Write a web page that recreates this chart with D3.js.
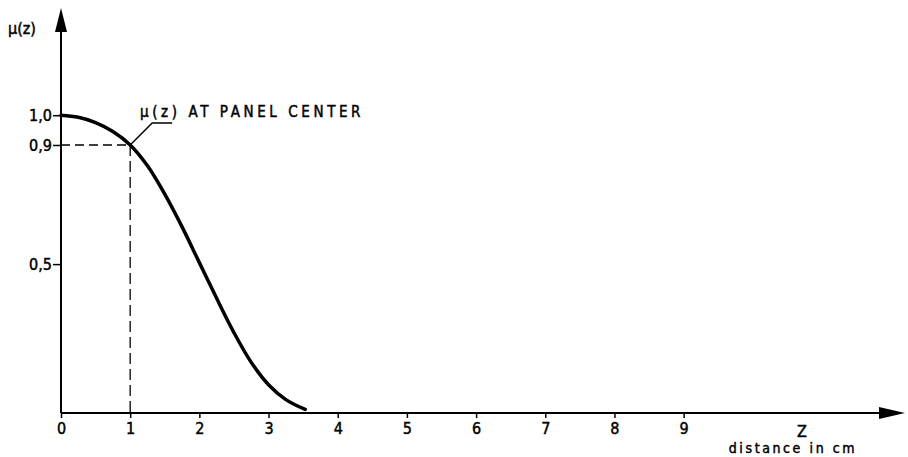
<!DOCTYPE html>
<html>
<head>
<meta charset="utf-8">
<script src="https://cdn.jsdelivr.net/npm/d3@7"></script>
<style>
  body { margin: 0; background: #fff; }
  svg { display: block; font-family: "DejaVu Sans", sans-serif; }
  text { stroke: black; stroke-width: 0.45px; }
</style>
</head>
<body>
<div id="container"></div>
<script>
// values
let xTicks = [0, 1, 2, 3, 4, 5, 6, 7, 8, 9];
let yTicks = [1.0, 0.9, 0.5];
let yTickLabels = ["1,0", "0,9", "0,5"];
let curveZ  = [0, 0.25, 0.5, 0.75, 1, 1.25, 1.5, 1.75, 2, 2.25, 2.5, 2.75, 3, 3.25, 3.53];
let curveMu = [1.0, 0.993, 0.975, 0.945, 0.9, 0.83, 0.735, 0.625, 0.505, 0.385, 0.27, 0.17, 0.095, 0.045, 0.012];
let centerZ = 1, centerMu = 0.9;

let w = 908;
let h = 457;

let x = d3.scaleLinear().domain([0, 12.2]).range([61, 905]);
let y = d3.scaleLinear().domain([0, 1.36]).range([413, 8]);

let svg = d3.select("#container")
  .append("svg")
  .attr("width", w)
  .attr("height", h);

// axes lines with arrow heads
svg.append("line")
  .attr("x1", x(0)).attr("y1", y(0))
  .attr("x2", x(0)).attr("y2", y(1.36) + 20)
  .attr("stroke", "black").attr("stroke-width", 2);
svg.append("path")
  .attr("d", `M${x(0)},${y(1.36)} L${x(0) - 6},${y(1.36) + 24} L${x(0) + 6},${y(1.36) + 24} Z`)
  .attr("fill", "black");

svg.append("line")
  .attr("x1", x(0)).attr("y1", y(0))
  .attr("x2", x(12.2) - 20).attr("y2", y(0))
  .attr("stroke", "black").attr("stroke-width", 2);
svg.append("path")
  .attr("d", `M${x(12.2)},${y(0)} L${x(12.2) - 26},${y(0) - 6} L${x(12.2) - 26},${y(0) + 6} Z`)
  .attr("fill", "black");

// x axis ticks
let xAxis = d3.axisBottom(x)
  .tickValues(xTicks)
  .tickSize(5)
  .tickPadding(5)
  .tickFormat(d3.format("d"));
let gx = svg.append("g")
  .attr("transform", `translate(0,${y(0)})`)
  .call(xAxis);
gx.select(".domain").remove();
gx.selectAll("line").attr("stroke-width", 1.5);
gx.selectAll("text")
  .attr("font-size", 16)
  .attr("fill", "black")
  .attr("font-family", "DejaVu Sans Condensed, DejaVu Sans");

// y axis ticks
let yAxis = d3.axisLeft(y)
  .tickValues(yTicks)
  .tickSize(8)
  .tickPadding(1)
  .tickFormat((d, i) => yTickLabels[i]);
let gy = svg.append("g")
  .attr("transform", `translate(${x(0)},0)`)
  .call(yAxis);
gy.select(".domain").remove();
gy.selectAll("line").attr("stroke-width", 1.5);
gy.selectAll("text")
  .attr("font-size", 16)
  .attr("fill", "black")
  .attr("font-family", "DejaVu Sans Condensed, DejaVu Sans");

// dashed guide lines to panel center
svg.append("line")
  .attr("x1", x(0)).attr("y1", y(centerMu))
  .attr("x2", x(centerZ)).attr("y2", y(centerMu))
  .attr("stroke", "black").attr("stroke-width", 1.3)
  .attr("stroke-dasharray", "9,5");
svg.append("line")
  .attr("x1", x(centerZ)).attr("y1", y(centerMu))
  .attr("x2", x(centerZ)).attr("y2", y(0))
  .attr("stroke", "black").attr("stroke-width", 1.3)
  .attr("stroke-dasharray", "11,5");

// the curve
let line = d3.line()
  .x(d => x(d[0]))
  .y(d => y(d[1]))
  .curve(d3.curveCatmullRom.alpha(0.5));
svg.append("path")
  .datum(d3.zip(curveZ, curveMu))
  .attr("d", line)
  .attr("fill", "none")
  .attr("stroke", "black")
  .attr("stroke-width", 3.5)
  .attr("stroke-linecap", "round");

// annotation with leader
let cx = x(centerZ), cy = y(centerMu);
svg.append("path")
  .attr("d", `M${cx},${cy} L${cx + 22},${cy - 22} L${cx + 42},${cy - 22}`)
  .attr("fill", "none")
  .attr("stroke", "black")
  .attr("stroke-width", 1.5);
svg.append("text")
  .attr("x", 140).attr("y", 117)
  .attr("font-size", 15)
  .attr("letter-spacing", 3.6)
  .attr("font-family", "DejaVu Sans Condensed, DejaVu Sans")
  .text("μ(z) AT PANEL CENTER");

// axis labels
svg.append("text")
  .attr("x", 8).attr("y", 34)
  .attr("font-size", 16)
  .attr("font-family", "DejaVu Sans Condensed, DejaVu Sans")
  .text("μ(z)");
svg.append("text")
  .attr("x", 802).attr("y", 437)
  .attr("text-anchor", "middle")
  .attr("font-size", 16)
  .attr("font-family", "DejaVu Sans Condensed, DejaVu Sans")
  .text("Z");
svg.append("text")
  .attr("x", 793).attr("y", 453)
  .attr("text-anchor", "middle")
  .attr("font-size", 14)
  .attr("letter-spacing", 2.6)
  .attr("font-family", "DejaVu Sans Condensed, DejaVu Sans")
  .text("distance in cm");
</script>
</body>
</html>
